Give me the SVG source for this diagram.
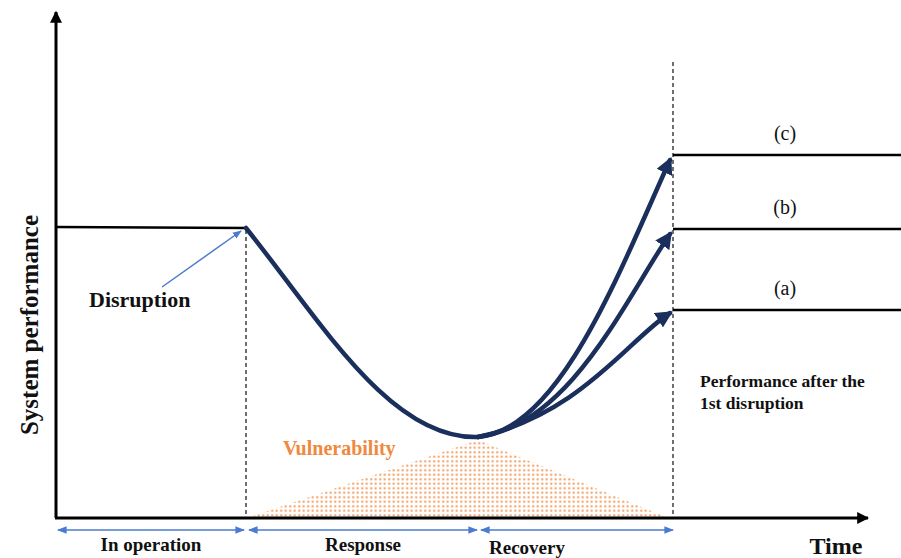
<svg xmlns="http://www.w3.org/2000/svg" width="901" height="558" viewBox="0 0 901 558">
<style>
.lbl{font-family:"Liberation Serif","Times New Roman",serif;font-weight:bold;fill:#111}
.reg{font-family:"Liberation Serif","Times New Roman",serif;fill:#111;font-size:20px}
.ax{stroke:#000;stroke-width:3;fill:none}
.flat{stroke:#000;stroke-width:2.5;fill:none}
.dash{stroke:#222;stroke-width:1.3;stroke-dasharray:4,3;fill:none}
.curve{stroke:#1b2f5c;stroke-width:4.5;fill:none;stroke-linecap:round}
.span{stroke:#4a7bd0;stroke-width:1.6;fill:none}
</style>
<defs>
<marker id="ah" viewBox="0 0 10 10" refX="9" refY="5" markerWidth="4" markerHeight="4" orient="auto"><path d="M0,0L10,5L0,10z" fill="#000"/></marker>
<marker id="nv" viewBox="0 0 10 10" refX="8" refY="5" markerWidth="3.8" markerHeight="3.8" orient="auto"><path d="M0,0L10,5L0,10z" fill="#1b2f5c"/></marker>
<marker id="bl" viewBox="0 0 10 10" refX="9" refY="5" markerWidth="6" markerHeight="6" orient="auto-start-reverse"><path d="M0,1L10,5L0,9z" fill="#4a7bd0"/></marker>
<pattern id="dots" width="4.5" height="4.5" patternUnits="userSpaceOnUse"><circle cx="2.2" cy="2.2" r="1.1" fill="#f2995a"/></pattern>
</defs>
<g id="vulnerability">
<polygon points="250,517 478,440 666,517" fill="url(#dots)"/>
<text class="lbl" x="283" y="455" font-size="20" style="fill:#f0883e">Vulnerability</text>
</g>
<g id="axes">
<line class="ax" x1="56" y1="518" x2="56" y2="12" marker-end="url(#ah)"/>
<line class="ax" x1="55" y1="518" x2="868" y2="518" marker-end="url(#ah)"/>
<text class="lbl" x="836" y="554" font-size="24" text-anchor="middle">Time</text>
<text class="lbl" font-size="25" text-anchor="middle" transform="translate(38,325) rotate(-90)">System performance</text>
</g>
<g id="connectors">
<line class="flat" x1="56" y1="227" x2="246" y2="228"/>
<line class="dash" x1="246" y1="230" x2="246" y2="517"/>
<line class="dash" x1="673" y1="62" x2="673" y2="517"/>
<line class="flat" x1="673" y1="155" x2="901" y2="155"/>
<line class="flat" x1="673" y1="229" x2="901" y2="229"/>
<line class="flat" x1="673" y1="310" x2="901" y2="310"/>
<path class="curve" d="M246,228 C320,320 390,440 478,437"/>
<path class="curve" d="M478,437 C560,430 620,270 670,160" marker-end="url(#nv)"/>
<path class="curve" d="M478,437 C570,425 625,300 670,234" marker-end="url(#nv)"/>
<path class="curve" d="M478,437 C580,415 630,338 670,313" marker-end="url(#nv)"/>
<line x1="162" y1="287" x2="241" y2="231" stroke="#4a7bd0" stroke-width="1.5" marker-end="url(#bl)"/>
<line class="span" x1="58" y1="530" x2="244" y2="530" marker-start="url(#bl)" marker-end="url(#bl)"/>
<line class="span" x1="249" y1="530" x2="477" y2="530" marker-start="url(#bl)" marker-end="url(#bl)"/>
<line class="span" x1="481" y1="530" x2="673" y2="530" marker-start="url(#bl)" marker-end="url(#bl)"/>
</g>
<g id="disruption"><text class="lbl" x="89" y="307" font-size="22">Disruption</text></g>
<g id="labels">
<text class="reg" x="785" y="140" text-anchor="middle">(c)</text>
<text class="reg" x="785" y="214" text-anchor="middle">(b)</text>
<text class="reg" x="785" y="295" text-anchor="middle">(a)</text>
<text class="lbl" x="700" y="387" font-size="17.5">Performance after the</text>
<text class="lbl" x="700" y="409" font-size="17.5">1st disruption</text>
<text class="lbl" x="151" y="551" font-size="19" text-anchor="middle">In operation</text>
<text class="lbl" x="363" y="551" font-size="19" text-anchor="middle">Response</text>
<text class="lbl" x="527" y="554" font-size="19" text-anchor="middle">Recovery</text>
</g>
</svg>
